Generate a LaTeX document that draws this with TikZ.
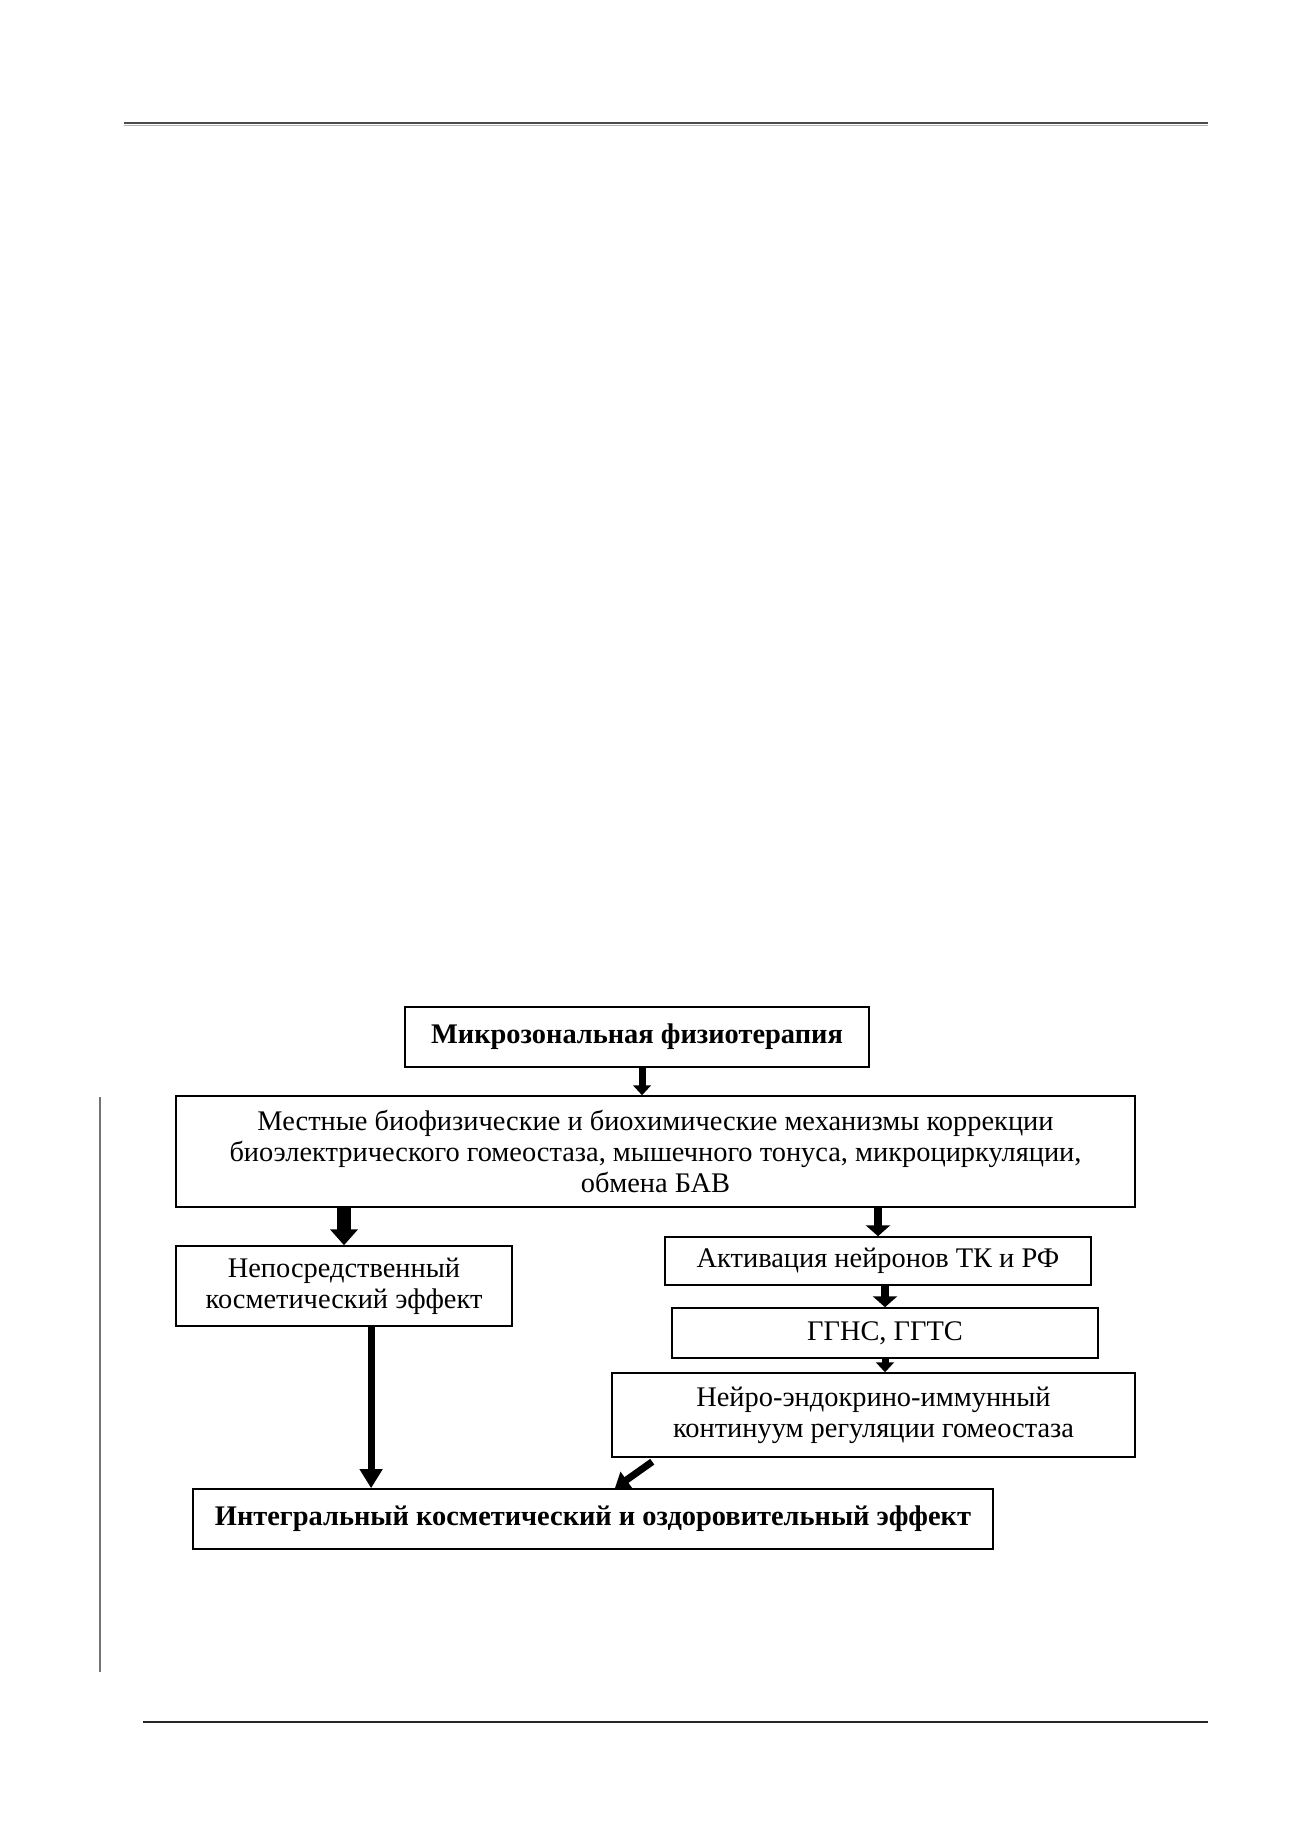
\documentclass[tikz,border=0pt]{standalone}
\usepackage{fontspec}
\setmainfont{Liberation Serif}
\usetikzlibrary{arrows.meta,calc}
\begin{document}
\begin{tikzpicture}[x=0.4576pt,y=-0.4576pt,
  box/.style={draw, line width=0.7pt, align=center, inner sep=0pt,
    font=\fontsize{13}{14.2}\selectfont},
  boldbox/.style={box, font=\fontsize{13}{14.2}\selectfont\bfseries},
  arrsmall/.style={line width=3.2pt, -{Triangle[width=8pt,length=4.5pt]}},
  arrthick/.style={line width=6pt, -{Triangle[width=12.4pt,length=7.3pt]}},
  arrmid/.style={line width=3.7pt, -{Triangle[width=11pt,length=5pt]}},
  arrlong/.style={line width=3.2pt, -{Triangle[width=10pt,length=8.7pt]}},
  arrdiag/.style={line width=3.2pt, -{Triangle[width=9pt,length=6.5pt]}},
  rule/.style={line width=0.9pt}
]
\useasboundingbox (0,0) rectangle (1300,1839);
\fill[white] (0,0) rectangle (1300,1839);

% page rules
\draw[rule, black!70] (124,123) -- (1208,123);
\draw[line width=0.6pt, black!30] (124,125.5) -- (1208,125.5);
\draw[rule, black!85] (143,1722) -- (1208,1722);
\draw[rule, black!55] (100,1097) -- (100,1672);

% boxes
\node[boldbox, minimum width=212.3pt, minimum height=27.5pt] (B1) at (637,1037)
  {Микрозональная физиотерапия};
\node[box, minimum width=438.8pt, minimum height=50.8pt] (B2) at (655.5,1151.5)
  {Местные биофизические и биохимические механизмы коррекции\\
   биоэлектрического гомеостаза, мышечного тонуса, микроциркуляции,\\
   обмена БАВ};
\node[box, minimum width=153.8pt, minimum height=36.6pt] (B3) at (344,1286)
  {Непосредственный\\косметический эффект};
\node[box, minimum width=194.9pt, minimum height=22pt] (B4) at (878,1261)
  {Активация нейронов ТК и РФ};
\node[box, minimum width=194.9pt, minimum height=22.9pt] (B5) at (885,1333)
  {ГГНС, ГГТС};
\node[box, minimum width=239.3pt, minimum height=38.4pt] (B7) at (873.5,1415)
  {Нейро-эндокрино-иммунный\\континуум регуляции гомеостаза};
\node[boldbox, minimum width=366pt, minimum height=27.5pt] (B6) at (593,1519)
  {Интегральный косметический и оздоровительный эффект};

% connectors
\draw[arrsmall] ([xshift=2.3pt]B1.south) -- ([xshift=2.3pt]B1.south |- B2.north);
\draw[arrthick] (B3.north |- B2.south) -- (B3.north);
\draw[arrmid] (B4.north |- B2.south) -- (B4.north);
\draw[arrmid] (B5.north |- B4.south) -- (B5.north);
\draw[arrsmall] (B5.south) -- (B5.south |- B7.north);
\draw[arrlong] ([xshift=12.4pt]B3.south) -- ([xshift=12.4pt]B3.south |- B6.north);
\draw[arrdiag] ([shift={(41,4)}]B7.south west) -- ([xshift=10pt]B6.north);
\end{tikzpicture}
\end{document}
